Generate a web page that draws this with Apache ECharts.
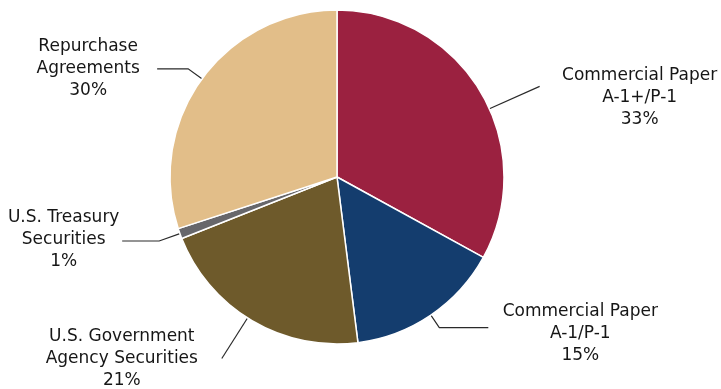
<!DOCTYPE html>
<html>
<head>
<meta charset="utf-8">
<script src="https://cdn.jsdelivr.net/npm/echarts@6/dist/echarts.min.js"></script>
<style>
html,body{margin:0;padding:0;background:#fff;}
#chart{width:721px;height:389px;}
</style>
</head>
<body>
<div id="chart"></div>
<script>
// Data
const categories = ['Commercial Paper\nA-1+/P-1', 'Commercial Paper\nA-1/P-1', 'U.S. Government\nAgency Securities', 'U.S. Treasury\nSecurities', 'Repurchase\nAgreements'];
const values = [33, 15, 21, 1, 30];
const percentLabels = ['33%', '15%', '21%', '1%', '30%'];

// Styles
const colors = ['#9B2140', '#143D6E', '#6E5A2B', '#67676B', '#E2BE89'];
const lineLen1 = [55, 15, 48, 22, 17];
const lineLen2 = [0, 49, 0, 37, 31];
const anchorShift = [6.5, 0, 1.8, 0, 0];
const labelOffset = [[100, 11.5], [92, 6], [-100, 0], [-58.5, -1], [-69, 0]];
const CX = 337, CY = 177, R = 167;

const chart = echarts.init(document.getElementById('chart'));
chart.setOption({
  animation: false,
  color: colors,
  series: [{
    type: 'pie',
    center: [CX, CY],
    radius: R,
    startAngle: 90,
    clockwise: true,
    itemStyle: { borderColor: '#fff', borderWidth: 1.5 },
    label: {
      show: true,
      position: 'outside',
      color: '#161616',
      fontFamily: 'DejaVu Sans',
      fontSize: 17,
      lineHeight: 22,
      align: 'center',
      overflow: 'none',
      bleedMargin: 0,
      edgeDistance: 0,
      formatter: p => categories[p.dataIndex] + '\n' + percentLabels[p.dataIndex]
    },
    labelLine: { show: true, lineStyle: { color: '#2a2a2a', width: 1.2 } },
    labelLayout: function (params) {
      const i = params.dataIndex;
      let sum = 0; values.forEach(v => sum += v);
      let before = 0; for (let k = 0; k < i; k++) before += values[k];
      const ang = (before + values[i] / 2) / sum * 360 + anchorShift[i];
      const a = ang * Math.PI / 180;
      const sx = CX + R * Math.sin(a), sy = CY - R * Math.cos(a);
      const mx = sx + lineLen1[i] * Math.sin(a), my = sy - lineLen1[i] * Math.cos(a);
      const dir = Math.sin(a) >= 0 ? 1 : -1;
      const pts = [[sx, sy], [mx, my], [mx + dir * lineLen2[i], my]];
      const end = pts[2];
      return {
        x: end[0] + labelOffset[i][0],
        y: end[1] + labelOffset[i][1],
        align: 'center',
        verticalAlign: 'middle',
        labelLinePoints: pts
      };
    },
    data: values.map((v, i) => ({
      value: v,
      name: categories[i],
      labelLine: { length: lineLen1[i], length2: lineLen2[i] }
    }))
  }]
});
</script>
</body>
</html>
